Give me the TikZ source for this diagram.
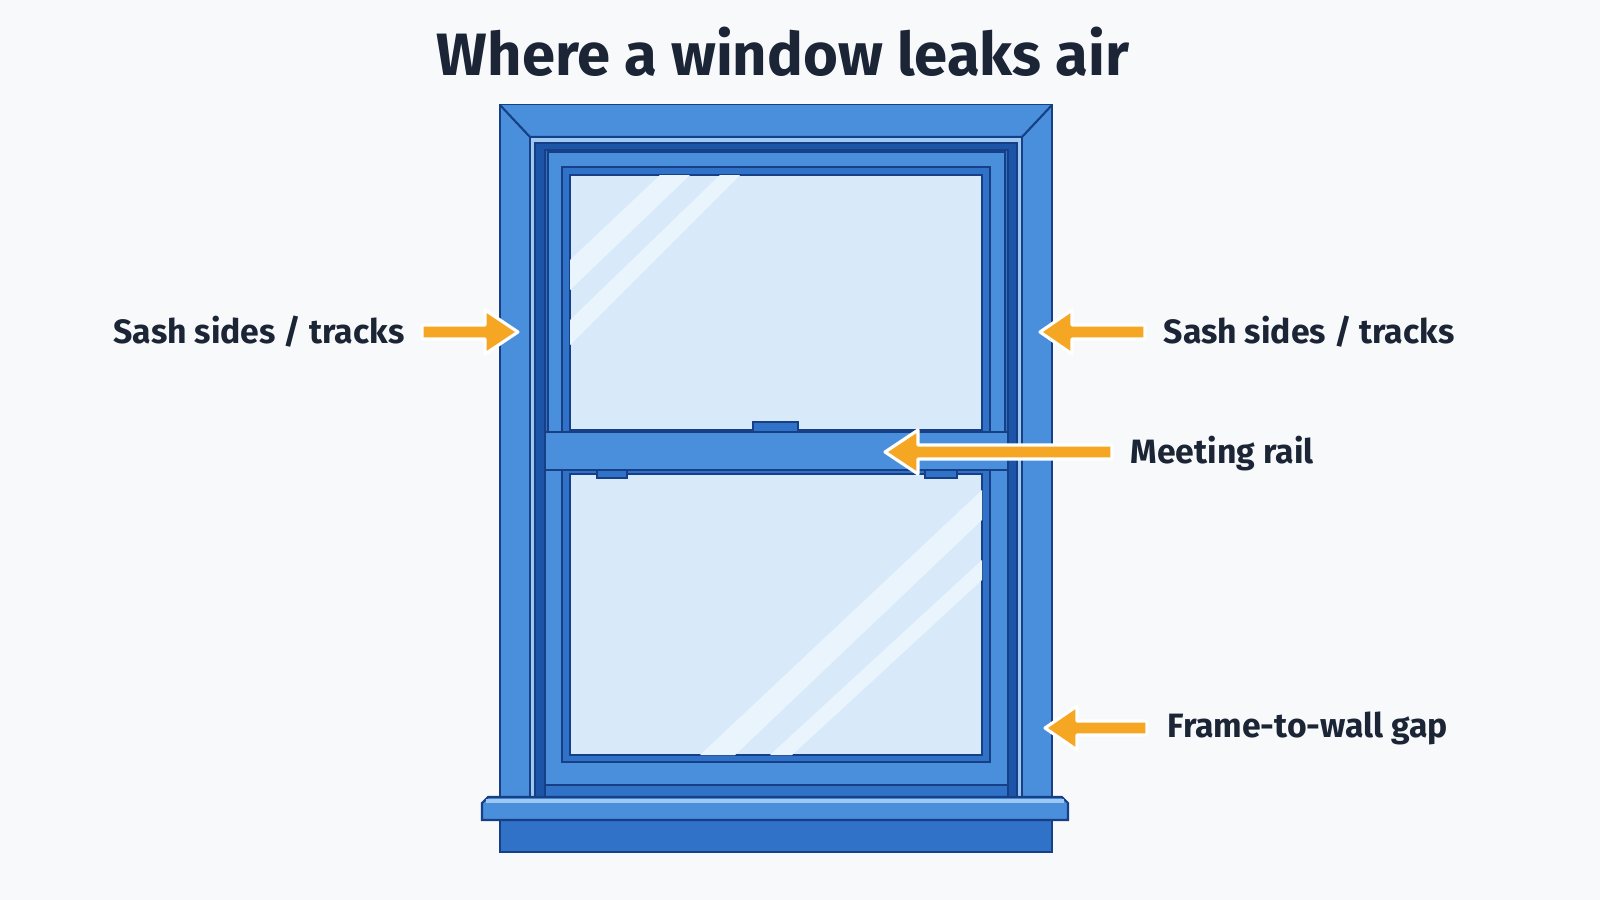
\documentclass[tikz,border=0pt]{standalone}
\usepackage{fontspec}
\setmainfont{Fira Sans}
\usetikzlibrary{arrows.meta}
\definecolor{bgc}{HTML}{F8F9FB}
\definecolor{frameblue}{HTML}{4A8FDB}
\definecolor{midblue}{HTML}{2F72C8}
\definecolor{darkblue}{HTML}{1C55A8}
\definecolor{lineblue}{HTML}{163F86}
\definecolor{lightblue}{HTML}{9CC8F2}
\definecolor{glass}{HTML}{D8EAFA}
\definecolor{shine}{HTML}{EAF4FD}
\definecolor{leakorange}{HTML}{F5A623}
\definecolor{textdark}{HTML}{1B2536}

\begin{document}
\begin{tikzpicture}
[x=0.01cm,y=-0.01cm,
  part/.style={draw=lineblue,line width=0.6pt,fill=#1},
  pane/.style={draw=lineblue,line width=0.6pt,fill=glass},
  leakArrow/.style={draw=white,line width=0.9pt,fill=leakorange,line join=round},
  labelText/.style={text=textdark,font=\fontsize{9.6}{11}\selectfont\bfseries,inner sep=0pt}]
\useasboundingbox[fill=bgc] (0,0) rectangle (1600,900);
%% title
\node (title) at (783,52) [text=textdark,font=\fontsize{17}{20}\selectfont\bfseries] {Where a window leaks air};
%% frame and casing
\draw[part=frameblue] (500,105) rectangle (1052,797);
\draw[part=frameblue] (500,105) -- (530,137) -- (1022,137) -- (1052,105);
\draw[part=lightblue] (530,137) rectangle (1022,797);
\draw[part=darkblue] (535,143) rectangle (1017,797);
\draw[part=midblue] (545,150) rectangle (1008,797);
%% upper sash
\draw[part=frameblue] (548,152) rectangle (1005,436);
\draw[part=midblue] (562,167) rectangle (990,436);
\draw[pane] (570,175) rectangle (982,430);
%% lower sash
\draw[part=frameblue] (545,460) rectangle (1008,785);
\draw[part=midblue] (562,470) rectangle (990,762);
\draw[pane] (570,474) rectangle (982,755);
%% glass reflections
\begin{scope}
  \clip (570,175) rectangle (982,430);
  \fill[shine] (570,260) -- (660,175) -- (690,175) -- (570,290) -- cycle;
  \fill[shine] (570,320) -- (720,175) -- (740,175) -- (570,345) -- cycle;
\end{scope}
\begin{scope}
  \clip (570,474) rectangle (982,755);
  \fill[shine] (700,755) -- (982,490) -- (982,520) -- (735,755) -- cycle;
  \fill[shine] (770,755) -- (982,560) -- (982,580) -- (792,755) -- cycle;
\end{scope}
%% meeting rail and hardware
\draw[part=frameblue] (545,432) rectangle (1008,470);
\draw[part=midblue] (753,422) rectangle (798,432);
\draw[part=midblue] (597,470) rectangle (627,478);
\draw[part=midblue] (925,470) rectangle (957,478);
%% sill and apron
\draw[part=midblue] (500,820) rectangle (1052,852);
\draw[part=frameblue] (488,797) -- (1062,797) -- (1068,803) -- (1068,820) -- (482,820) -- (482,803) -- cycle;
\draw[lightblue,line width=1.2pt] (486,801) -- (1064,801);
%% leak arrows
\node (sashL) at (405,332) [labelText,anchor=east] {Sash sides / tracks};
\node (sashR) at (1163,332) [labelText,anchor=west] {Sash sides / tracks};
\node (rail) at (1130,454) [labelText,anchor=west] {Meeting rail};
\node (gap) at (1167,728) [labelText,anchor=west] {Frame-to-wall gap};
\draw[leakArrow] (422,325) -- (485,325) -- (485,310) -- (518,332) -- (485,354) -- (485,339) -- (422,339) -- cycle;
\draw[leakArrow] (1145,325) -- (1072,325) -- (1072,310) -- (1040,332) -- (1072,354) -- (1072,339) -- (1145,339) -- cycle;
\draw[leakArrow] (1112,445) -- (918,445) -- (918,430) -- (885,452) -- (918,474) -- (918,459) -- (1112,459) -- cycle;
\draw[leakArrow] (1147,721) -- (1077,721) -- (1077,706) -- (1045,728) -- (1077,750) -- (1077,735) -- (1147,735) -- cycle;
\end{tikzpicture}
\end{document}
